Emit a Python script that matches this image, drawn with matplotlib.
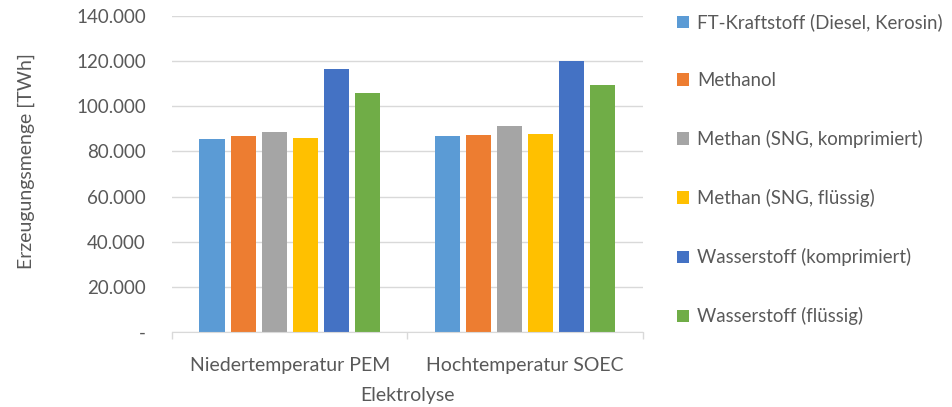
import numpy as np
import matplotlib
matplotlib.use("Agg")
import matplotlib.pyplot as plt
from matplotlib.patches import Patch
from matplotlib.ticker import FuncFormatter

# ── Data ──────────────────────────────────────────────────────────────────────
categories = ["Niedertemperatur PEM", "Hochtemperatur SOEC"]
series = [
    "FT-Kraftstoff (Diesel, Kerosin)",
    "Methanol",
    "Methan (SNG, komprimiert)",
    "Methan (SNG, flüssig)",
    "Wasserstoff (komprimiert)",
    "Wasserstoff (flüssig)",
]
ft_kraftstoff = [85600, 86700]
methanol = [86700, 87300]
methan_komp = [88600, 91200]
methan_fl = [86000, 87900]
h2_komp = [116300, 120200]
h2_fl = [106000, 109300]
values = [ft_kraftstoff, methanol, methan_komp, methan_fl, h2_komp, h2_fl]

colors = ["#5B9BD5", "#ED7D31", "#A5A5A5", "#FFC000", "#4472C4", "#70AD47"]
TXT = "#595959"
FS = 14

plt.rcParams["font.family"] = ["Lato", "DejaVu Sans"]

# ── Plot ──────────────────────────────────────────────────────────────────────
fig = plt.figure(figsize=(9.52, 4.07), dpi=100)
ax = fig.add_axes([0.181, 0.184, 0.494, 0.777])

x = np.arange(len(categories))
pitch = 0.1325
for i, (name, vals) in enumerate(zip(series, values)):
    ax.bar(x + (i - 2.5) * pitch, vals, width=0.107, color=colors[i],
           label=name, zorder=3)

ax.set_xlim(-0.5, 1.5)
ax.set_ylim(0, 140000)
ax.set_yticks(np.arange(0, 140001, 20000))


def de_fmt(v, pos):
    if v == 0:
        return "-"
    return f"{v:,.0f}".replace(",", ".")


ax.yaxis.set_major_formatter(FuncFormatter(de_fmt))
ax.grid(axis="y", color="#D9D9D9", linewidth=1.0, zorder=0)
ax.tick_params(axis="y", length=0, pad=19, labelsize=13.5, labelcolor=TXT)

# category labels, with boundary ticks below the axis line
ax.set_xticks(x)
ax.set_xticklabels(categories)
ax.tick_params(axis="x", length=0, pad=18, labelsize=FS, labelcolor=TXT)
ax.set_xticks([-0.5, 0.5, 1.5], minor=True)
ax.tick_params(axis="x", which="minor", length=5, color="#D9D9D9", width=1)

for s in ["top", "right", "left"]:
    ax.spines[s].set_visible(False)
ax.spines["bottom"].set_color("#D9D9D9")
ax.spines["bottom"].set_zorder(4)

ax.set_xlabel("Elektrolyse", fontsize=FS, color=TXT, labelpad=9)
ax.set_ylabel("Erzeugungsmenge [TWh]", fontsize=FS, color=TXT)
ax.yaxis.set_label_coords(-0.293, 0.54)

handles = [Patch(facecolor=c, label=n) for c, n in zip(colors, series)]
fig.legend(handles=handles, loc="upper left", bbox_to_anchor=(0.703, 0.985),
           frameon=False, fontsize=13.4, labelcolor=TXT, handlelength=0.68,
           handleheight=0.68, handletextpad=0.4, labelspacing=2.2,
           borderaxespad=0)

plt.savefig("out.png", dpi=100)
